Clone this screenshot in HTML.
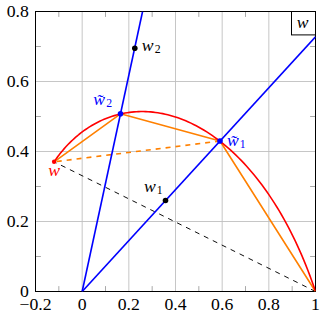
<!DOCTYPE html><html><head><meta charset="utf-8"><style>html,body{margin:0;padding:0;background:#fff}svg{display:block}</style></head><body>
<svg width="326" height="317" viewBox="0 0 326 317">
<rect width="326" height="317" fill="#fff"/>
<path d="M82.17,11.50 V291.50 M128.83,11.50 V291.50 M175.50,11.50 V291.50 M222.17,11.50 V291.50 M268.83,11.50 V291.50 M35.50,221.50 H315.50 M35.50,151.50 H315.50 M35.50,81.50 H315.50" stroke="#bfbfbf" stroke-width="0.9" fill="none"/>
<path d="M58.83,291.50 v-5.40 M58.83,11.50 v5.40 M105.50,291.50 v-5.40 M105.50,11.50 v5.40 M152.17,291.50 v-5.40 M152.17,11.50 v5.40 M198.83,291.50 v-5.40 M198.83,11.50 v5.40 M245.50,291.50 v-5.40 M245.50,11.50 v5.40 M292.17,291.50 v-5.40 M292.17,11.50 v5.40 M35.50,256.50 h5.40 M315.50,256.50 h-5.40 M35.50,186.50 h5.40 M315.50,186.50 h-5.40 M35.50,116.50 h5.40 M315.50,116.50 h-5.40 M35.50,46.50 h5.40 M315.50,46.50 h-5.40" stroke="#999" stroke-width="0.85" fill="none"/>
<rect x="35.50" y="11.50" width="280.00" height="280.00" fill="none" stroke="#000" stroke-width="1.0"/>
<clipPath id="c"><rect x="35.50" y="11.50" width="280.00" height="280.00"/></clipPath>
<g clip-path="url(#c)" fill="none" stroke-linejoin="round">
<path d="M315.50,291.50 L54.10,161.80" stroke="#000" stroke-width="0.95" stroke-dasharray="4.985 4.985"/>
<path d="M54.10,161.80 L120.50,113.80 L220.00,141.05 L315.50,291.50" stroke="#ff8000" stroke-width="1.6"/>
<path d="M220.00,141.05 L54.10,161.80" stroke="#ff8000" stroke-width="1.6" stroke-dasharray="4.985 4.985"/>
<path d="M54.10,161.80 L55.25,160.13 L56.43,158.47 L57.63,156.82 L58.86,155.20 L60.12,153.59 L61.40,151.99 L62.72,150.42 L64.05,148.86 L65.42,147.32 L66.81,145.80 L68.23,144.31 L69.67,142.84 L71.14,141.39 L72.64,139.96 L74.17,138.56 L75.72,137.18 L77.30,135.83 L78.90,134.50 L80.53,133.21 L82.19,131.94 L83.88,130.70 L85.59,129.50 L87.32,128.32 L89.08,127.18 L90.87,126.06 L92.69,124.99 L94.52,123.94 L96.39,122.94 L98.28,121.97 L100.19,121.03 L102.13,120.14 L104.09,119.28 L106.08,118.47 L108.09,117.69 L110.13,116.96 L112.19,116.27 L114.27,115.62 L116.37,115.02 L118.50,114.46 L120.65,113.95 L122.83,113.48 L125.02,113.07 L127.23,112.70 L129.47,112.38 L131.73,112.11 L134.01,111.90 L136.30,111.73 L138.62,111.62 L140.96,111.57 L143.31,111.57 L145.69,111.62 L148.08,111.74 L150.49,111.90 L152.91,112.13 L155.35,112.42 L157.81,112.77 L160.28,113.18 L162.77,113.65 L165.27,114.18 L167.79,114.78 L170.32,115.44 L172.86,116.17 L175.42,116.96 L177.98,117.82 L180.56,118.74 L183.15,119.74 L185.74,120.80 L188.35,121.94 L190.96,123.14 L193.58,124.42 L196.21,125.77 L198.84,127.19 L201.48,128.68 L204.13,130.25 L206.78,131.90 L209.43,133.62 L212.08,135.41 L214.74,137.29 L217.39,139.24 L220.05,141.27 L222.70,143.37 L225.36,145.56 L228.01,147.83 L230.66,150.17 L233.30,152.60 L235.94,155.11 L238.57,157.71 L241.20,160.38 L243.82,163.14 L246.43,165.98 L249.03,168.91 L251.61,171.92 L254.19,175.01 L256.76,178.19 L259.31,181.46 L261.84,184.81 L264.36,188.25 L266.87,191.77 L269.35,195.38 L271.82,199.08 L274.27,202.87 L276.69,206.74 L279.10,210.70 L281.48,214.75 L283.84,218.89 L286.17,223.11 L288.47,227.42 L290.75,231.83 L293.00,236.31 L295.22,240.89 L297.41,245.56 L299.56,250.31 L301.68,255.15 L303.77,260.08 L305.82,265.10 L307.84,270.21 L309.81,275.40 L311.75,280.68 L313.65,286.05 L315.50,291.50" stroke="#f00" stroke-width="1.6"/>
<path d="M82.17,291.50 L315.50,36.81" stroke="#00f" stroke-width="1.6"/>
<path d="M82.17,291.50 L142.57,11.50" stroke="#00f" stroke-width="1.6"/>
</g>
<circle cx="165.50" cy="200.50" r="2.8" fill="#000"/>
<circle cx="134.80" cy="48.30" r="2.8" fill="#000"/>
<circle cx="220.00" cy="141.05" r="2.8" fill="#00f"/>
<circle cx="120.50" cy="113.80" r="2.8" fill="#00f"/>
<circle cx="54.10" cy="161.80" r="2.2" fill="#f00"/>
<rect x="291.50" y="11.50" width="24.00" height="23.40" fill="#fff" stroke="#000" stroke-width="1.0"/>
<g font-family="'Liberation Serif', serif" font-size="17.7" fill="#000">
<text x="296.83" y="27.80" font-style="italic">w</text>
<g text-anchor="middle">
<text x="35.50" y="309.50">−0.2</text>
<text x="82.17" y="309.50">0</text>
<text x="128.83" y="309.50">0.2</text>
<text x="175.50" y="309.50">0.4</text>
<text x="222.17" y="309.50">0.6</text>
<text x="268.83" y="309.50">0.8</text>
<text x="315.50" y="309.50">1</text>
</g>
<g text-anchor="end">
<text x="28.80" y="297.00">0</text>
<text x="28.80" y="227.00">0.2</text>
<text x="28.80" y="157.00">0.4</text>
<text x="28.80" y="87.00">0.6</text>
<text x="28.80" y="17.00">0.8</text>
</g>
<text x="144.03" y="191.70" font-style="italic">w</text>
<text x="156.83" y="193.67" font-size="11.8">1</text>
<text x="141.83" y="50.70" font-style="italic">w</text>
<text x="154.63" y="52.67" font-size="11.8">2</text>
<text x="226.93" y="146.30" font-style="italic" fill="#00f">w̃</text>
<text x="239.73" y="148.27" font-size="11.8" fill="#00f">1</text>
<text x="93.33" y="104.90" font-style="italic" fill="#00f">w̃</text>
<text x="106.13" y="106.87" font-size="11.8" fill="#00f">2</text>
<text x="48.13" y="175.90" font-style="italic" fill="#f00">w</text>
</g>
</svg></body></html>
